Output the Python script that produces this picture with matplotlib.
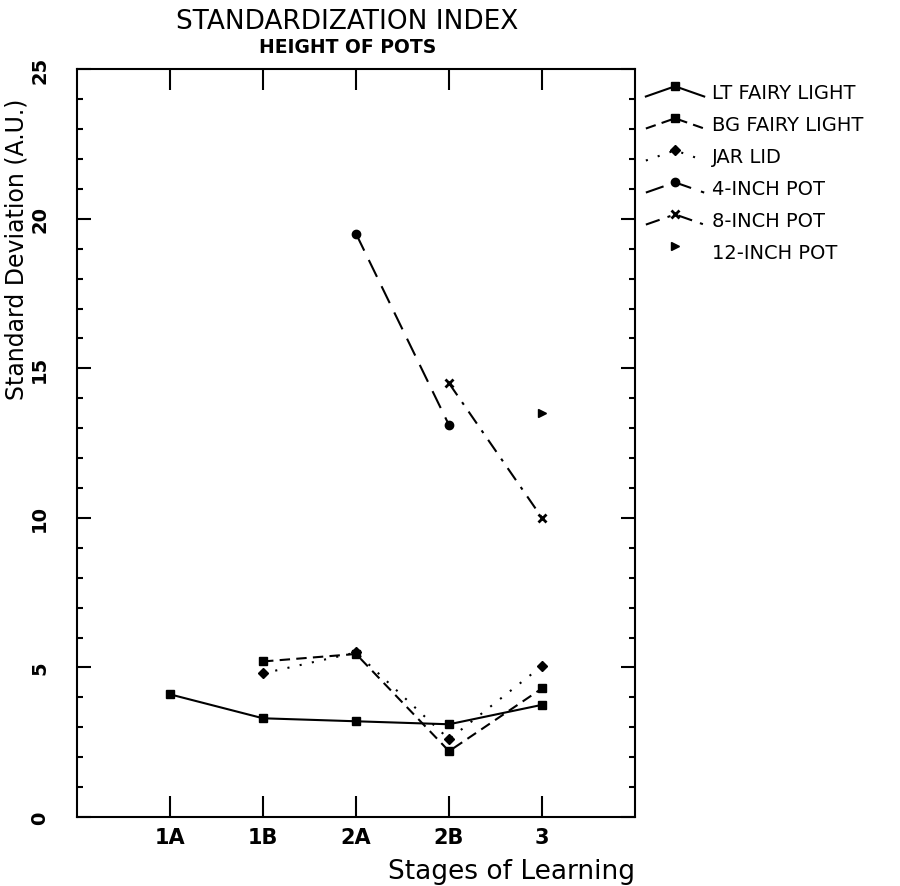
import matplotlib
matplotlib.use("Agg")
import matplotlib.pyplot as plt
from matplotlib.lines import Line2D
from matplotlib.legend_handler import HandlerBase
from matplotlib.ticker import MultipleLocator

# stages on the x axis
stages = ["1A", "1B", "2A", "2B", "3"]
stage_pos = [1, 2, 3, 4, 5]

# standard deviation per object (None = not measured at that stage)
lt_fairy = [4.1, 3.3, 3.2, 3.1, 3.75]
bg_fairy = [None, 5.2, 5.45, 2.2, 4.3]
jar_lid = [None, 4.8, 5.5, 2.6, 5.05]
pot_4in = [None, None, 19.5, 13.1, None]
pot_8in = [None, None, None, 14.5, 10.0]
pot_12in = [None, None, None, None, 13.5]

series = [
    ("LT FAIRY LIGHT", lt_fairy, "-", "s", 6),
    ("BG FAIRY LIGHT", bg_fairy, (0, (5, 3)), "s", 6),
    ("JAR LID", jar_lid, (0, (1, 5)), "D", 5),
    ("4-INCH POT", pot_4in, (0, (9, 5)), "o", 6),
    ("8-INCH POT", pot_8in, (0, (7, 4, 1.5, 4)), "x", 6),
    ("12-INCH POT", pot_12in, "None", ">", 6),
]


class CaretHandler(HandlerBase):
    """legend glyph drawn as a little peak with the marker on top"""
    def create_artists(self, legend, orig_handle, xdescent, ydescent,
                       width, height, fontsize, trans):
        x0 = -xdescent
        x1 = x0 + width
        xm = (x0 + x1) / 2
        ylo = -ydescent + height * 0.1
        yhi = -ydescent + height * 0.85
        ls = orig_handle.get_linestyle()
        artists = []
        if ls not in ("None", "none", ""):
            ln = Line2D([x0, xm, x1], [ylo, yhi, ylo], color="black",
                        linewidth=1.5, linestyle=ls)
            dashes = orig_handle._unscaled_dash_pattern[1]
            if dashes:
                ln.set_dashes(dashes)
            ln.set_transform(trans)
            artists.append(ln)
        mk = Line2D([xm], [yhi], linestyle="None", marker=orig_handle.get_marker(),
                    markersize=orig_handle.get_markersize(), color="black",
                    markeredgewidth=orig_handle.get_markeredgewidth())
        mk.set_transform(trans)
        artists.append(mk)
        return artists


fig = plt.figure(figsize=(9, 8.87), dpi=100)
ax = fig.add_axes([0.0856, 0.0778, 0.62, 0.843])

handles = []
for name, vals, ls, mk, ms in series:
    xs = [p for p, v in zip(stage_pos, vals) if v is not None]
    ys = [v for v in vals if v is not None]
    h, = ax.plot(xs, ys, linestyle=ls, marker=mk, markersize=ms, color="black",
                 linewidth=1.5, markeredgewidth=2 if mk == "x" else 1, label=name)
    handles.append(h)

ax.set_xlim(0, 6)
ax.set_ylim(0, 25)
ax.set_xticks(stage_pos)
ax.set_xticklabels(stages, fontsize=15, fontweight="bold")
ax.yaxis.set_major_locator(MultipleLocator(5))
ax.yaxis.set_minor_locator(MultipleLocator(1))
ax.tick_params(axis="x", which="major", direction="in", length=15, width=1.5,
               top=True, bottom=True, pad=7)
ax.tick_params(axis="y", which="major", direction="in", length=10, width=1.5,
               left=True, right=True, pad=20, labelsize=14, labelrotation=90)
ax.tick_params(axis="y", which="minor", direction="in", length=4, width=1.5,
               left=True, right=True)
for lbl in ax.get_yticklabels():
    lbl.set_va("center")
    lbl.set_fontweight("bold")
for sp in ax.spines.values():
    sp.set_linewidth(1.5)

ax.set_ylabel("Standard Deviation (A.U.)", fontsize=17, va="center")
ax.yaxis.set_label_coords(-0.108, 0.76)
ax.set_xlabel("Stages of Learning", fontsize=19, ha="right")
ax.xaxis.set_label_coords(1.0, -0.055)

fig.text(0.386, 0.975, "STANDARDIZATION INDEX", fontsize=19, ha="center", va="center")
fig.text(0.386, 0.946, "HEIGHT OF POTS", fontsize=13.5, fontweight="bold", ha="center", va="center")

ax.legend(handles=handles, handler_map={h: CaretHandler() for h in handles},
          loc="upper left", bbox_to_anchor=(0.995, 1.0), frameon=False,
          fontsize=14, handlelength=3.0, labelspacing=0.67, handletextpad=0.4,
          borderaxespad=0.3)

fig.savefig("out.png", dpi=100)
